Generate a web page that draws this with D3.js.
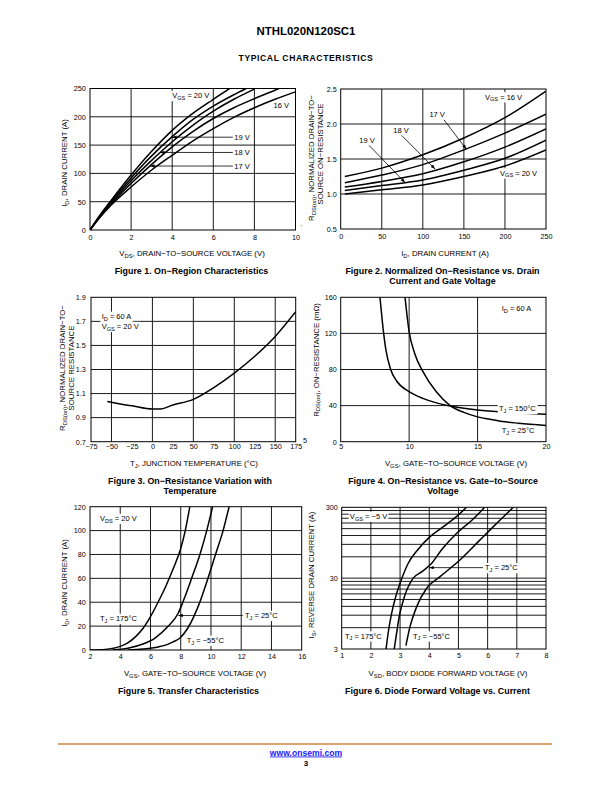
<!DOCTYPE html>
<html><head><meta charset="utf-8">
<script src="https://cdn.jsdelivr.net/npm/d3@7"></script>
<style>
body{margin:0;background:#fff;}
svg{display:block;font-family:"Liberation Sans",Arial,Helvetica,sans-serif;}
</style></head><body>
<svg id="page" width="612" height="792"></svg>
<script>
// ---------------- DATA ----------------
// Figure 1: On-Region Characteristics (VDS [V] vs ID [A])
const f1_xTicks = [0,2,4,6,8,10];
const f1_yTicks = [0,50,100,150,200,250];
const f1_vds_20 = [0,0.5,1,2,3,4,5,6,6.8];
const f1_id_20  = [0,27,51,97,139,176,206,231,250];
const f1_vds_19 = [0,0.5,1,2,3,4,5,6,7,7.6];
const f1_id_19  = [0,26,49,92,131,165,195,219,239,250];
const f1_vds_18 = [0,0.5,1,2,3,4,5,6,7,8];
const f1_id_18  = [0,25,47,87,123,156,185,210,231,249];
const f1_vds_17 = [0,0.5,1,2,3,4,5,6,7,8,9,9.2];
const f1_id_17  = [0,24,45,82,116,147,174,197,216,232,247,250];
const f1_vds_16 = [0,0.5,1,2,3,4,5,6,7,8,9,10];
const f1_id_16  = [0,23,43,76,106,132,157,179,199,216,231,244];

// Figure 2: Normalized RDS(on) vs ID
const f2_xTicks = [0,50,100,150,200,250];
const f2_yTicks = [0.5,1.0,1.5,2.0,2.5];
const f2_id     = [5,50,100,150,200,250];
const f2_r_16   = [1.25,1.37,1.56,1.80,2.09,2.47];
const f2_r_17   = [1.16,1.27,1.42,1.63,1.87,2.14];
const f2_r_18   = [1.10,1.18,1.29,1.46,1.67,1.93];
const f2_r_19   = [1.05,1.12,1.20,1.34,1.51,1.77];
const f2_r_20   = [1.00,1.06,1.13,1.25,1.40,1.63];

// Figure 3: Normalized RDS(on) vs TJ
const f3_xTicks = [-75,-50,-25,0,25,50,75,100,125,150,175];
const f3_yTicks = [0.7,0.9,1.1,1.3,1.5,1.7,1.9];
const f3_tj     = [-55,-25,0,10,25,50,75,100,125,150,175];
const f3_r      = [1.035,0.998,0.971,0.972,1.005,1.052,1.15,1.27,1.41,1.575,1.78];

// Figure 4: RDS(on) [mOhm] vs VGS
const f4_xTicks = [5,10,15,20];
const f4_yTicks = [0,40,80,120,160];
const f4_vgs_150 = [7.87,8.05,8.3,8.65,9.1,10,11,12,13,15,17,20];
const f4_r_150   = [160,132,102,80,67,55.5,48,43,39.5,35,32.5,30.5];
const f4_vgs_25  = [9.7,10,10.4,11,12,13,14,15,16,17,18,20];
const f4_r_25    = [160,122,98,78,55,40,32.5,27.5,24.5,22,20.5,18];

// Figure 5: Transfer characteristics (VGS vs ID)
const f5_xTicks = [2,4,6,8,10,12,14,16];
const f5_yTicks = [0,20,40,60,80,100,120];
const f5_vgs_175 = [2,3,4,4.5,5,5.5,6,6.5,7,7.5,8,8.3,8.6];
const f5_id_175  = [0,0.5,3,6,11,18,28,40,53,68,85,100,120];
const f5_vgs_25  = [3.5,4.5,5.5,6.3,7.18,7.84,8.2,8.72,9.27,9.72,10.11];
const f5_id_25   = [0,1.5,5,10,20,31,42,60,80,100,120];
const f5_vgs_m55 = [4.5,5.5,6.5,7.1,7.5,7.95,8.45,9.2,9.8,10.3,10.8,11.2];
const f5_id_m55  = [0,0.8,2.5,4.5,6.8,10,18,38,60,80,100,120];

// Figure 6: Diode forward voltage vs current (log IS)
const f6_xTicks = [1,2,3,4,5,6,7,8];
const f6_yTicks = [3,30,300];
const f6_yGrid  = [6,9,12,15,18,21,24,27,30,60,90,120,150,180,210,240,270];
const f6_vsd_175 = [2.52,2.6,2.7,2.85,3.0,3.28,3.6,4.0,4.45,4.9,5.28];
const f6_is_175  = [3,5.3,9.1,16.4,25.4,48.7,75,113,156,216,300];
const f6_vsd_25  = [2.8,2.88,2.98,3.15,3.45,3.75,4.05,4.45,4.95,5.45,5.9];
const f6_is_25   = [3,5,9,16.5,30,37,47,78,130,195,300];
const f6_vsd_m55 = [3.2,3.34,3.57,3.91,4.37,5.05,5.74,6.31,6.88];
const f6_is_m55  = [3.35,6.2,11.9,21.6,31.5,54,104,178,300];

// ---------------- RENDER ----------------
const svg = d3.select('#page');
svg.append('rect').attr('width',612).attr('height',792).attr('fill','#fff');
const defs = svg.append('defs');
const TICK = 7.2, TITLE = 7.8, ANN = 7.5, CAP = 8.9;

function rich(t, str){
  const re = /_\{([^}]*)\}/g; let last = 0, m, pend = 0;
  while ((m = re.exec(str))){
    if (m.index > last){ const s = t.append('tspan').text(str.slice(last, m.index)); if (pend){ s.attr('dy', pend); pend = 0; } }
    t.append('tspan').attr('font-size','75%').attr('dy', 1.7).text(m[1]);
    pend = -1.7; last = re.lastIndex;
  }
  if (last < str.length){ const s = t.append('tspan').text(str.slice(last)); if (pend) s.attr('dy', pend); }
  return t;
}
function text(g, x, y, str, o={}){
  const t = g.append('text').attr('x',x).attr('y',y).attr('font-size',o.size||ANN)
    .attr('text-anchor',o.anchor||'start').attr('fill','#000');
  if (o.bold) t.attr('font-weight','bold');
  rich(t, str);
  if (o.bg){
    const b = t.node().getBBox();
    g.insert('rect', () => t.node()).attr('x',b.x-1.2).attr('y',b.y-0.3).attr('width',b.width+2.4).attr('height',b.height+0.6).attr('fill','#fff');
  }
  return t;
}
function arrow(g, x1, y1, x2, y2){
  g.append('line').attr('x1',x1).attr('y1',y1).attr('x2',x2).attr('y2',y2).attr('stroke','#000').attr('stroke-width',0.8);
  const a = Math.atan2(y2-y1, x2-x1), L = 4.5, W = 1.7;
  const bx = x2 - L*Math.cos(a), by = y2 - L*Math.sin(a);
  const px = -Math.sin(a)*W, py = Math.cos(a)*W;
  g.append('path').attr('d',`M${x2},${y2}L${bx+px},${by+py}L${bx-px},${by-py}Z`).attr('fill','#000');
}
function yTitle(lines, xs, cys){
  lines.forEach((s,i)=>{
    const t = svg.append('text').attr('transform',`translate(${xs[i]},${cys[i]}) rotate(-90)`)
      .attr('text-anchor','middle').attr('font-size',TITLE).attr('fill','#000');
    rich(t, s);
  });
}

function chart(c){
  const g = svg.append('g');
  const x = d3.scaleLinear().domain(c.xDomain).range([c.left, c.right]);
  const y = (c.yLog ? d3.scaleLog() : d3.scaleLinear()).domain(c.yDomain).range([c.bottom, c.top]);
  g.append('g').selectAll('line').data(c.xGrid).join('line')
    .attr('x1',d=>x(d)).attr('x2',d=>x(d)).attr('y1',c.top).attr('y2',c.bottom)
    .attr('stroke','#000').attr('stroke-width',0.9);
  g.append('g').selectAll('line').data(c.yGrid).join('line')
    .attr('y1',d=>y(d)).attr('y2',d=>y(d)).attr('x1',c.left).attr('x2',c.right)
    .attr('stroke','#000').attr('stroke-width',0.9);
  const cid = 'clip' + c.id;
  defs.append('clipPath').attr('id',cid).append('rect')
    .attr('x',c.left).attr('y',c.top).attr('width',c.right-c.left).attr('height',c.bottom-c.top);
  const line = d3.line().x(d=>x(d[0])).y(d=>y(d[1])).curve(d3.curveMonotoneX);
  c.series.forEach(s=>{
    g.append('path').datum(d3.zip(s[0], s[1])).attr('d', line)
      .attr('fill','none').attr('stroke','#000').attr('stroke-width',1.5)
      .attr('clip-path',`url(#${cid})`);
  });
  const ann = g.append('g');
  g.append('rect').attr('x',c.left).attr('y',c.top).attr('width',c.right-c.left).attr('height',c.bottom-c.top)
    .attr('fill','none').attr('stroke','#000').attr('stroke-width',1);
  const ax = g.append('g').attr('transform',`translate(0,${c.bottom})`)
    .call(d3.axisBottom(x).tickValues(c.xTicks).tickSize(0).tickPadding(c.xPad).tickFormat(c.xFmt));
  const ay = g.append('g').attr('transform',`translate(${c.left},0)`)
    .call(d3.axisLeft(y).tickValues(c.yTicks).tickSize(0).tickPadding(c.yPad).tickFormat(c.yFmt));
  [ax, ay].forEach(a=>{
    a.select('.domain').remove();
    a.attr('font-family',null).attr('font-size',null);
    a.selectAll('text').attr('font-size',TICK).attr('fill','#000');
  });
  return {g: ann, x, y};
}

// ---- Header ----
text(svg, 306, 35, 'NTHL020N120SC1', {size:11.4, bold:true, anchor:'middle'});
text(svg, 306, 60.5, 'TYPICAL CHARACTERISTICS', {size:8.6, bold:true, anchor:'middle'}).attr('letter-spacing', 0.6);

// ---- Figure 1 ----
{
  const c = chart({id:1, left:90, right:295.5, top:88.5, bottom:230, xDomain:[0,10], yDomain:[0,250],
    xTicks:f1_xTicks, yTicks:f1_yTicks, xGrid:[2,4,6,8], yGrid:[50,100,150,200],
    xFmt:d3.format('d'), yFmt:d3.format('d'), xPad:4.8, yPad:4.3,
    series:[[f1_vds_20,f1_id_20],[f1_vds_19,f1_id_19],[f1_vds_18,f1_id_18],[f1_vds_17,f1_id_17],[f1_vds_16,f1_id_16]]});
  const {g,x,y} = c;
  text(g, x(4.0), y(233), 'V_{GS} = 20 V', {bg:true});
  text(g, x(8.93), y(216), '16 V', {});
  [['19 V',4.0,164],['18 V',3.41,137],['17 V',2.93,113]].forEach(([s,vx,vy])=>{
    arrow(g, x(6.95), y(vy), x(vx), y(vy));
    text(g, x(7.02), y(vy)+2.6, s, {});
  });
  yTitle(['I_{D}, DRAIN CURRENT (A)'], [67], [163]);
  text(svg, 192, 256, 'V_{DS}, DRAIN−TO−SOURCE VOLTAGE (V)', {size:TITLE, anchor:'middle'});
  text(svg, 191.5, 273.5, 'Figure 1. On−Region Characteristics', {size:CAP, bold:true, anchor:'middle'});
}

// ---- Figure 2 ----
{
  const c = chart({id:2, left:340.7, right:546, top:89, bottom:229, xDomain:[0,250], yDomain:[0.5,2.5],
    xTicks:f2_xTicks, yTicks:f2_yTicks, xGrid:[50,100,150,200], yGrid:[1.0,1.5,2.0],
    xFmt:d3.format('d'), yFmt:d3.format('.1f'), xPad:5.2, yPad:4,
    series:[[f2_id,f2_r_16],[f2_id,f2_r_17],[f2_id,f2_r_18],[f2_id,f2_r_19],[f2_id,f2_r_20]]});
  const {g,x,y} = c;
  text(g, x(175.7), y(2.35), 'V_{GS} = 16 V', {bg:true});
  text(g, x(194), y(1.263), 'V_{GS} = 20 V', {bg:true});
  text(g, x(108), y(2.10), '17 V', {});
  arrow(g, x(125.8), y(2.06), x(153), y(1.64));
  text(g, x(64), y(1.87), '18 V', {});
  arrow(g, x(74.3), y(1.836), x(114.9), y(1.357));
  text(g, x(22.7), y(1.73), '19 V', {});
  arrow(g, x(34.5), y(1.695), x(78.3), y(1.164));
  yTitle(['R_{DS(on)}, NORMALIZED DRAIN−TO−','SOURCE ON−RESISTANCE'], [314, 323], [158, 154]);
  text(svg, 445, 256, 'I_{D}, DRAIN CURRENT (A)', {size:TITLE, anchor:'middle'});
  text(svg, 442.5, 273.5, 'Figure 2. Normalized On−Resistance vs. Drain', {size:CAP, bold:true, anchor:'middle'});
  text(svg, 442.5, 284, 'Current and Gate Voltage', {size:CAP, bold:true, anchor:'middle'});
  text(svg, 300.5, 229, '\u2019', {size:6});
}

// ---- Figure 3 ----
{
  const c = chart({id:3, left:91, right:295.7, top:297.3, bottom:441.7, xDomain:[-75,175], yDomain:[0.7,1.9],
    xTicks:f3_xTicks, yTicks:f3_yTicks, xGrid:[-50,0,50,100,150], yGrid:[0.9,1.1,1.3,1.5,1.7],
    xFmt:d3.format('d'), yFmt:d3.format('.1f'), xPad:2.6, yPad:5.3,
    series:[[f3_tj,f3_r]]});
  const {g,x,y} = c;
  text(g, x(-62), y(1.72), 'I_{D} = 60 A', {bg:true});
  text(g, x(-62), y(1.636), 'V_{GS} = 20 V', {bg:true});
  yTitle(['R_{DS(on)}, NORMALIZED DRAIN−TO−','SOURCE RESISTANCE'], [65, 73.6], [368, 368]);
  text(svg, 194, 466, 'T_{J}, JUNCTION TEMPERATURE (°C)', {size:TITLE, anchor:'middle'});
  text(svg, 190, 483.7, 'Figure 3. On−Resistance Variation with', {size:CAP, bold:true, anchor:'middle'});
  text(svg, 190, 494, 'Temperature', {size:CAP, bold:true, anchor:'middle'});
}

// ---- Figure 4 ----
{
  const c = chart({id:4, left:340.7, right:546, top:297.3, bottom:441.7, xDomain:[5,20], yDomain:[0,160],
    xTicks:f4_xTicks, yTicks:f4_yTicks, xGrid:[10,15], yGrid:[40,80,120],
    xFmt:d3.format('d'), yFmt:d3.format('d'), xPad:2.6, yPad:4,
    series:[[f4_vgs_150,f4_r_150],[f4_vgs_25,f4_r_25]]});
  const {g,x,y} = c;
  text(g, x(16.76), y(144.8), 'I_{D} = 60 A', {});
  text(g, x(16.56), y(33.9), 'T_{J} = 150°C', {bg:true});
  text(g, x(16.76), y(9.6), 'T_{J} = 25°C', {bg:true});
  yTitle(['R_{DS(on)}, ON−RESISTANCE (mΩ)'], [318.7], [360]);
  text(svg, 456, 466, 'V_{GS}, GATE−TO−SOURCE VOLTAGE (V)', {size:TITLE, anchor:'middle'});
  text(svg, 443, 483.7, 'Figure 4. On−Resistance vs. Gate−to−Source', {size:CAP, bold:true, anchor:'middle'});
  text(svg, 443, 494, 'Voltage', {size:CAP, bold:true, anchor:'middle'});
  text(svg, 303, 442.5, '5', {size:TICK});
}

// ---- Figure 5 ----
{
  const c = chart({id:5, left:90, right:301.7, top:506.7, bottom:650, xDomain:[2,16], yDomain:[0,120],
    xTicks:f5_xTicks, yTicks:f5_yTicks, xGrid:[4,6,8,10,12,14], yGrid:[20,40,60,80,100],
    xFmt:d3.format('d'), yFmt:d3.format('d'), xPad:3.8, yPad:4.3,
    series:[[f5_vgs_175,f5_id_175],[f5_vgs_25,f5_id_25],[f5_vgs_m55,f5_id_m55]]});
  const {g,x,y} = c;
  text(g, x(2.66), y(108), 'V_{DS} = 20 V', {bg:true});
  text(g, x(2.66), y(24.3), 'T_{J} = 175°C', {bg:true});
  arrow(g, x(12.1), y(28.9), x(7.84), y(28.9));
  text(g, x(12.25), y(28.9)+2.6, 'T_{J} = 25°C', {bg:true});
  text(g, x(8.4), y(5.9), 'T_{J} = −55°C', {bg:true});
  yTitle(['I_{D}, DRAIN CURRENT (A)'], [67], [583]);
  text(svg, 195, 676, 'V_{GS}, GATE−TO−SOURCE VOLTAGE (V)', {size:TITLE, anchor:'middle'});
  text(svg, 188.5, 693.5, 'Figure 5. Transfer Characteristics', {size:CAP, bold:true, anchor:'middle'});
}

// ---- Figure 6 ----
{
  const c = chart({id:6, left:341.7, right:546, top:507.3, bottom:649, xDomain:[1,8], yDomain:[3,300], yLog:true,
    xTicks:f6_xTicks, yTicks:f6_yTicks, xGrid:[2,3,4,5,6,7], yGrid:f6_yGrid,
    xFmt:d3.format('d'), yFmt:d3.format('d'), xPad:3.8, yPad:4,
    series:[[f6_vsd_175,f6_is_175],[f6_vsd_25,f6_is_25],[f6_vsd_m55,f6_is_m55]]});
  const {g,x,y} = c;
  text(g, x(1.28), y(205), 'V_{GS} = −5 V', {bg:true});
  arrow(g, x(5.84), y(42.2), x(4.0), y(42.2));
  text(g, x(5.91), y(42.2)+2.6, 'T_{J} = 25°C', {bg:true});
  text(g, x(1.11), y(4.2), 'T_{J} = 175°C', {bg:true});
  text(g, x(3.44), y(4.2), 'T_{J} = −55°C', {bg:true});
  yTitle(['I_{S}, REVERSE DRAIN CURRENT (A)'], [314.4], [575]);
  text(svg, 448, 676, 'V_{SD}, BODY DIODE FORWARD VOLTAGE (V)', {size:TITLE, anchor:'middle'});
  text(svg, 437.5, 693.5, 'Figure 6. Diode Forward Voltage vs. Current', {size:CAP, bold:true, anchor:'middle'});
}

// ---- Footer ----
svg.append('line').attr('x1',58).attr('x2',552).attr('y1',744).attr('y2',744).attr('stroke','#d5843c').attr('stroke-width',1.6);
text(svg, 306, 755.5, 'www.onsemi.com', {size:8.6, bold:true, anchor:'middle'}).attr('fill','#1a1aff').attr('text-decoration','underline');
text(svg, 306, 766, '3', {size:8, bold:true, anchor:'middle'});
</script>
</body></html>
